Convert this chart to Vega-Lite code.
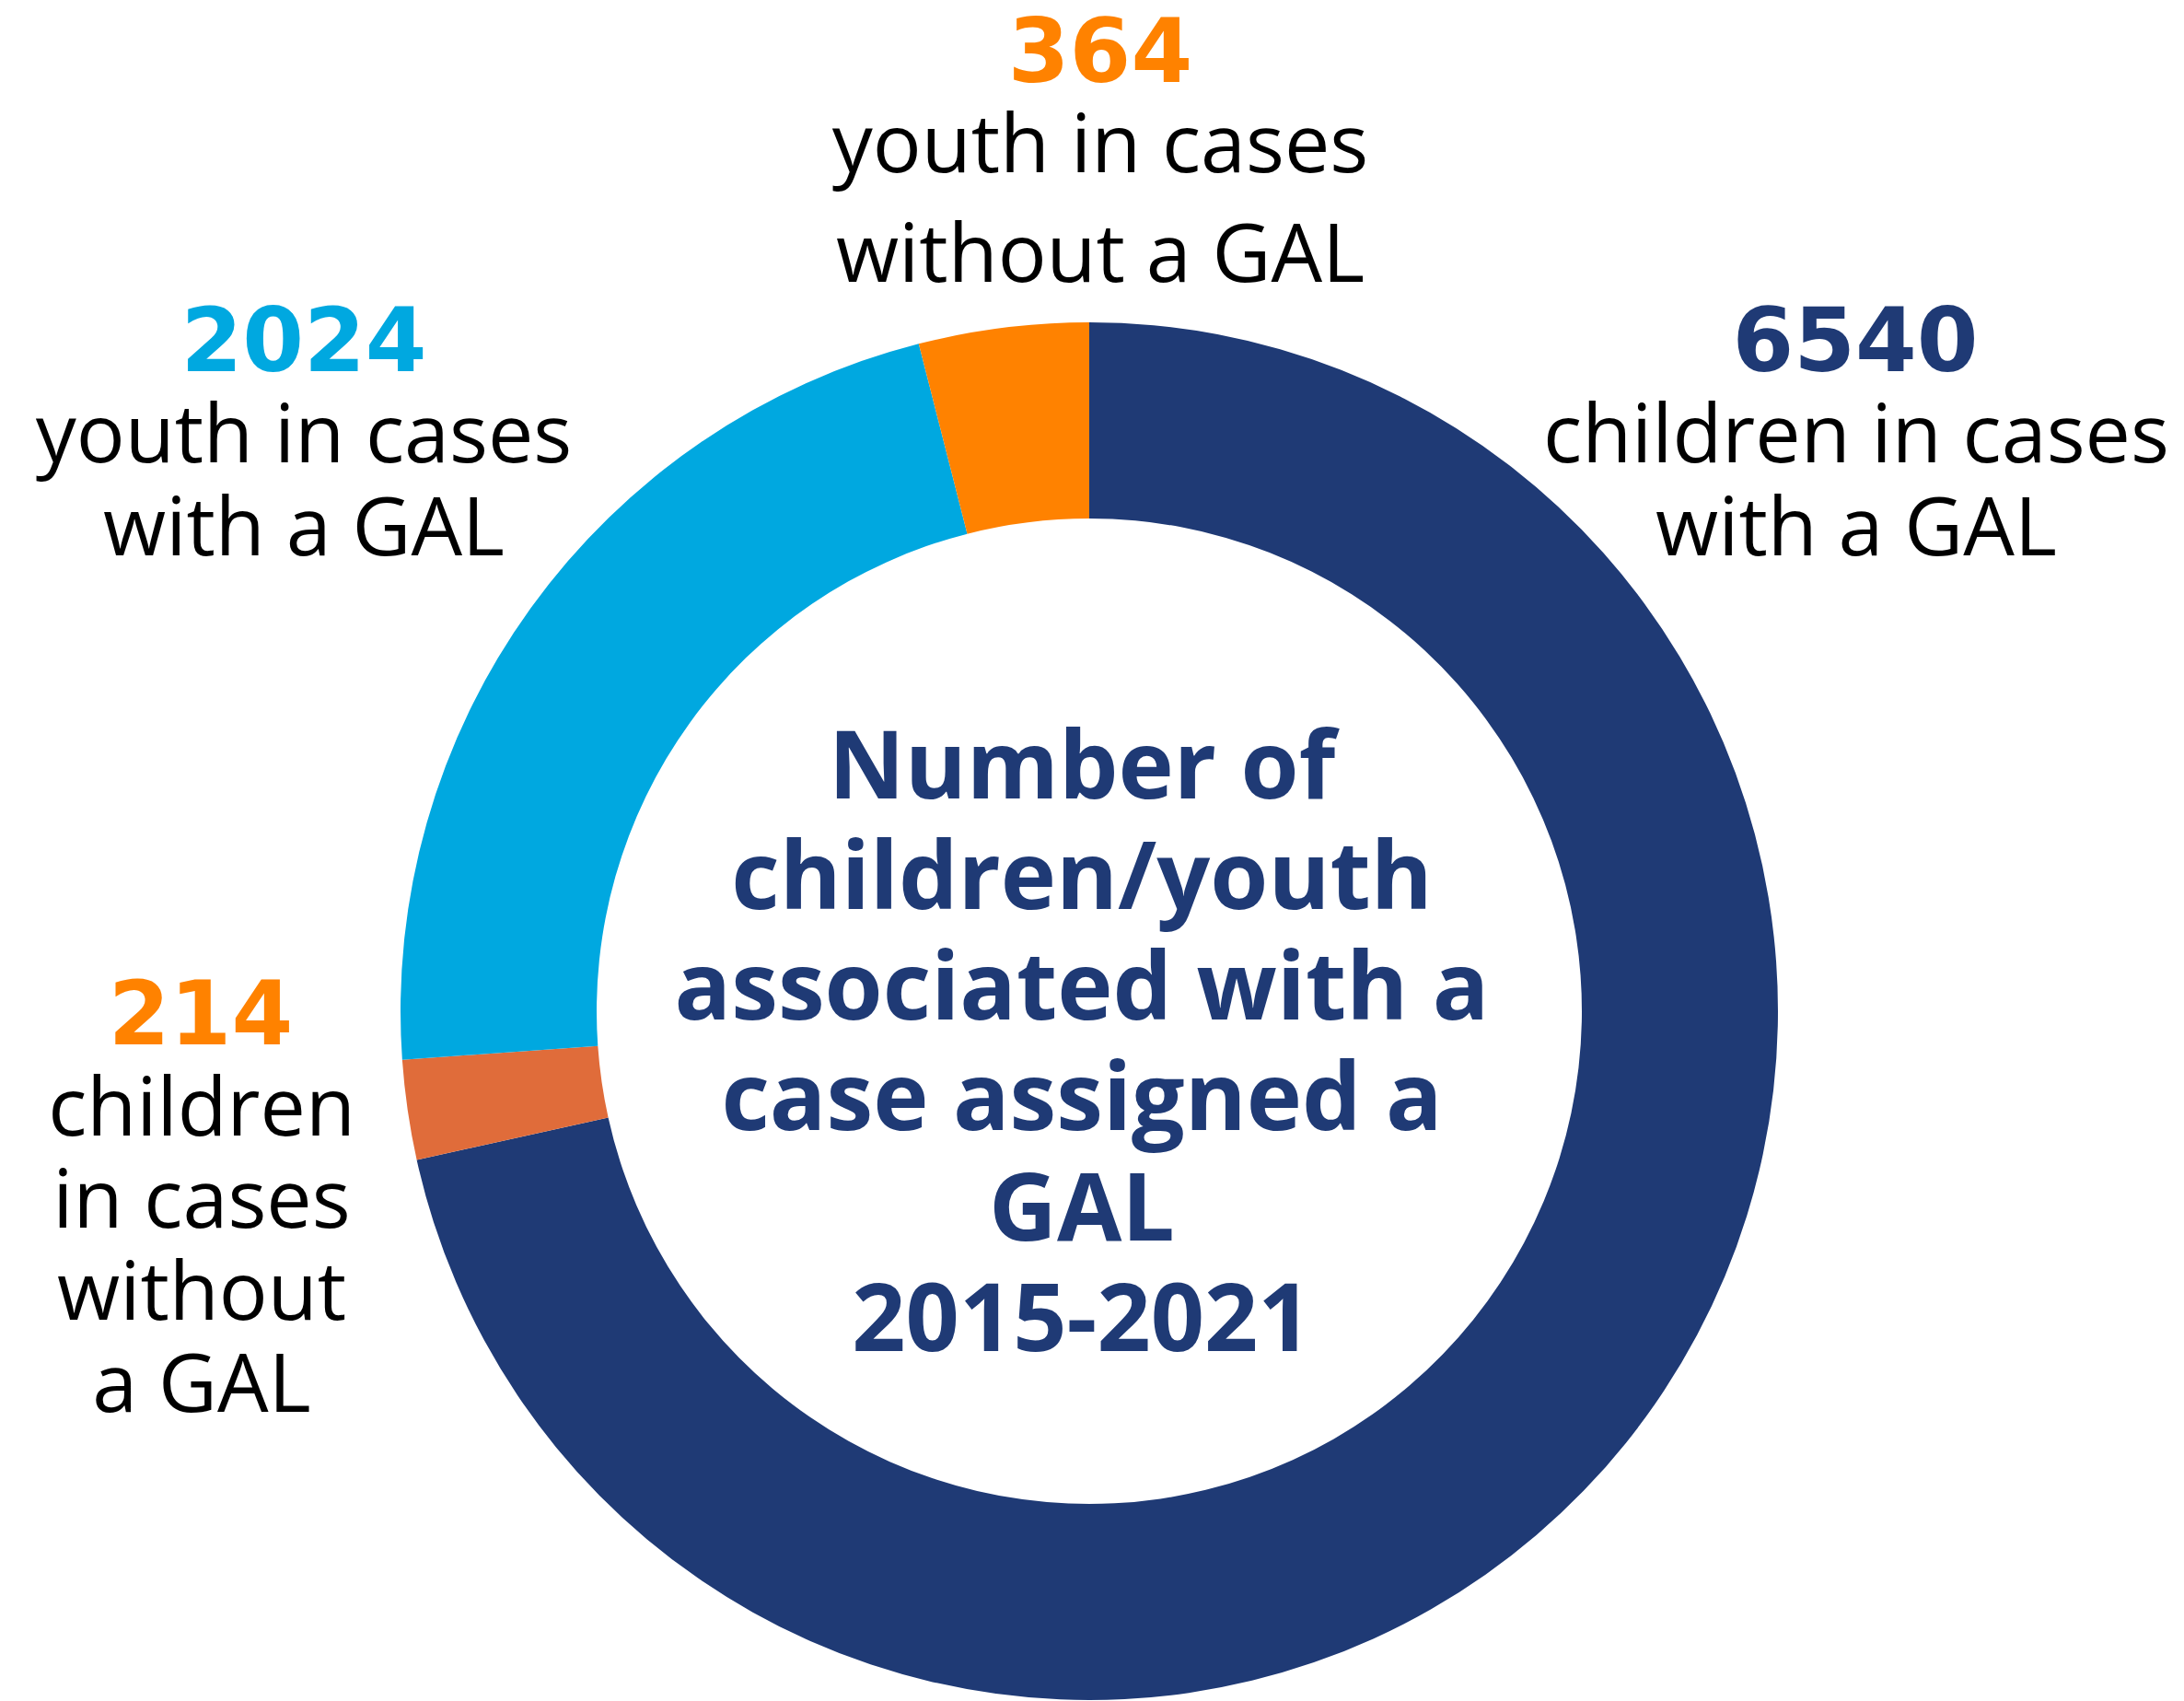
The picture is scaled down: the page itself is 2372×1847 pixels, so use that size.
{
  "$schema": "https://vega.github.io/schema/vega-lite/v6.json",
  "autosize": {"type": "none"},
  "padding": {"left": 435, "top": 350, "right": 441, "bottom": 1},
  "width": 1496,
  "height": 1496,
  "background": "white",
  "config": {"view": {"stroke": null}},
  "data": {
    "values": [
      {"group": "children with a GAL", "value": 6540, "desc": "children in cases\nwith a GAL"},
      {"group": "children without a GAL", "value": 214, "desc": "children\nin cases\nwithout\na GAL"},
      {"group": "youth with a GAL", "value": 2024, "desc": "youth in cases\nwith a GAL"},
      {"group": "youth without a GAL", "value": 364, "desc": "youth in cases\nwithout a GAL"}
    ]
  },
  "layer": [
    {
      "mark": {"type": "arc", "innerRadius": 535, "outerRadius": 748},
      "encoding": {
        "theta": {"field": "value", "type": "quantitative", "stack": true},
        "order": {"field": "group", "type": "nominal"},
        "color": {
          "field": "group",
          "type": "nominal",
          "scale": {
            "domain": ["children with a GAL", "children without a GAL", "youth with a GAL", "youth without a GAL"],
            "range": ["#1F3A75", "#E06C3A", "#00A8E0", "#FF8200"]
          },
          "legend": null
        }
      }
    },
    {
      "data": {"values": [{"title": "Number of\nchildren/youth\nassociated with a\ncase assigned a\nGAL\n2015-2021"}]},
      "mark": {"type": "text", "font": "Open Sans", "fontWeight": "bold", "fontSize": 102, "color": "#1F3A75", "lineBreak": "\n", "lineHeight": 120, "align": "center", "baseline": "alphabetic", "dx": -8, "dy": -231},
      "encoding": {"text": {"field": "title", "type": "nominal"}}
    },
    {
      "transform": [
        {"stack": "value", "groupby": [], "sort": [{"field": "group", "order": "ascending"}], "as": ["v0", "v1"]},
        {"filter": "datum.group === 'children with a GAL'"}
      ],
      "mark": {"type": "text", "radius": 1084.1, "thetaOffset": 0.87489, "font": "DejaVu Sans", "fontWeight": "bold", "fontSize": 96, "color": "#1F3A75", "align": "center", "baseline": "alphabetic"},
      "encoding": {
        "theta": {"field": "v0", "type": "quantitative"},
        "text": {"field": "value", "type": "nominal"}
      }
    },
    {
      "transform": [
        {"stack": "value", "groupby": [], "sort": [{"field": "group", "order": "ascending"}], "as": ["v0", "v1"]},
        {"filter": "datum.group === 'children with a GAL'"}
      ],
      "mark": {"type": "text", "radius": 1024.3, "thetaOffset": 0.94964, "font": "Open Sans", "fontSize": 88, "color": "#000000", "lineBreak": "\n", "lineHeight": 101, "align": "center", "baseline": "alphabetic"},
      "encoding": {
        "theta": {"field": "v0", "type": "quantitative"},
        "text": {"field": "desc", "type": "nominal"}
      }
    },
    {
      "transform": [
        {"stack": "value", "groupby": [], "sort": [{"field": "group", "order": "ascending"}], "as": ["v0", "v1"]},
        {"filter": "datum.group === 'youth with a GAL'"}
      ],
      "mark": {"type": "text", "radius": 1100.3, "thetaOffset": 0.75419, "font": "DejaVu Sans", "fontWeight": "bold", "fontSize": 96, "color": "#00A8E0", "align": "center", "baseline": "alphabetic"},
      "encoding": {
        "theta": {"field": "v0", "type": "quantitative"},
        "text": {"field": "value", "type": "nominal"}
      }
    },
    {
      "transform": [
        {"stack": "value", "groupby": [], "sort": [{"field": "group", "order": "ascending"}], "as": ["v0", "v1"]},
        {"filter": "datum.group === 'youth with a GAL'"}
      ],
      "mark": {"type": "text", "radius": 1040.6, "thetaOffset": 0.68035, "font": "Open Sans", "fontSize": 88, "color": "#000000", "lineBreak": "\n", "lineHeight": 101, "align": "center", "baseline": "alphabetic"},
      "encoding": {
        "theta": {"field": "v0", "type": "quantitative"},
        "text": {"field": "desc", "type": "nominal"}
      }
    },
    {
      "transform": [
        {"stack": "value", "groupby": [], "sort": [{"field": "group", "order": "ascending"}], "as": ["v0", "v1"]},
        {"filter": "datum.group === 'youth without a GAL'"}
      ],
      "mark": {"type": "text", "radius": 1009.1, "thetaOffset": 0.26206, "font": "DejaVu Sans", "fontWeight": "bold", "fontSize": 96, "color": "#FF8200", "align": "center", "baseline": "alphabetic"},
      "encoding": {
        "theta": {"field": "v0", "type": "quantitative"},
        "text": {"field": "value", "type": "nominal"}
      }
    },
    {
      "transform": [
        {"stack": "value", "groupby": [], "sort": [{"field": "group", "order": "ascending"}], "as": ["v0", "v1"]},
        {"filter": "datum.group === 'youth without a GAL'"}
      ],
      "mark": {"type": "text", "radius": 910.6, "thetaOffset": 0.26336, "font": "Open Sans", "fontSize": 88, "color": "#000000", "lineBreak": "\n", "lineHeight": 118.5, "align": "center", "baseline": "alphabetic"},
      "encoding": {
        "theta": {"field": "v0", "type": "quantitative"},
        "text": {"field": "desc", "type": "nominal"}
      }
    },
    {
      "transform": [
        {"stack": "value", "groupby": [], "sort": [{"field": "group", "order": "ascending"}], "as": ["v0", "v1"]},
        {"filter": "datum.group === 'children without a GAL'"}
      ],
      "mark": {"type": "text", "radius": 965.7, "thetaOffset": 0.18026, "font": "DejaVu Sans", "fontWeight": "bold", "fontSize": 96, "color": "#FF8200", "align": "center", "baseline": "alphabetic"},
      "encoding": {
        "theta": {"field": "v0", "type": "quantitative"},
        "text": {"field": "value", "type": "nominal"}
      }
    },
    {
      "transform": [
        {"stack": "value", "groupby": [], "sort": [{"field": "group", "order": "ascending"}], "as": ["v0", "v1"]},
        {"filter": "datum.group === 'children without a GAL'"}
      ],
      "mark": {"type": "text", "radius": 973.4, "thetaOffset": 0.0784, "font": "Open Sans", "fontSize": 88, "color": "#000000", "lineBreak": "\n", "lineHeight": 100, "align": "center", "baseline": "alphabetic"},
      "encoding": {
        "theta": {"field": "v0", "type": "quantitative"},
        "text": {"field": "desc", "type": "nominal"}
      }
    }
  ]
}
